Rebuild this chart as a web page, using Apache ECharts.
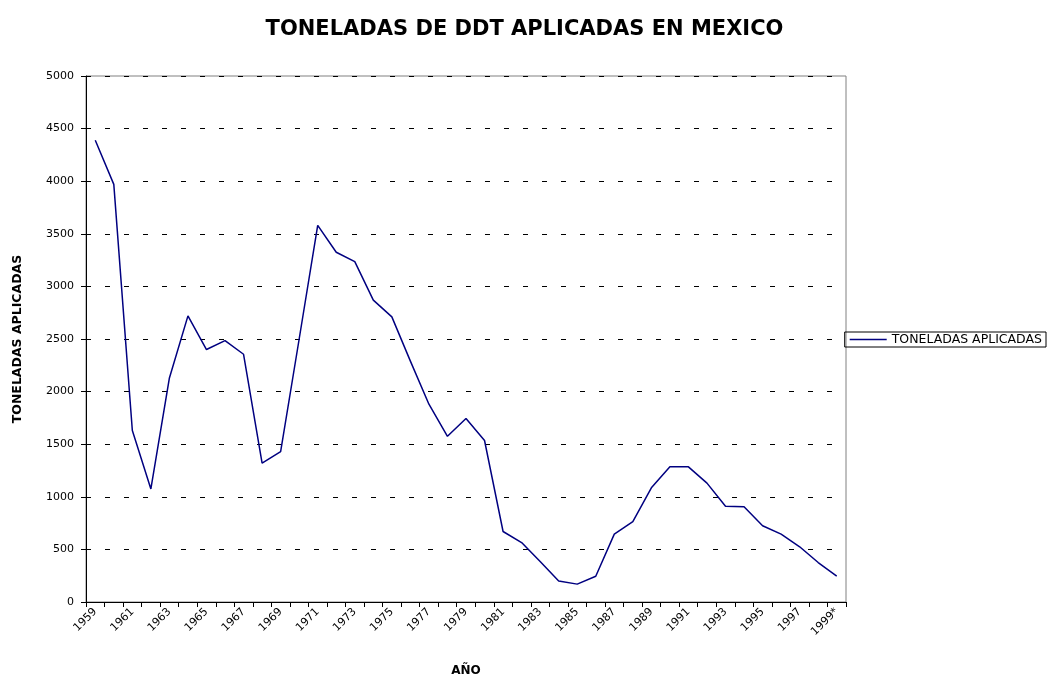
<!DOCTYPE html>
<html>
<head>
<meta charset="utf-8">
<script src="https://cdn.jsdelivr.net/npm/echarts@6/dist/echarts.min.js"></script>
<style>
  html, body { margin: 0; padding: 0; background: #fff; }
  #main { width: 1049px; height: 680px; }
</style>
</head>
<body>
<div id="main"></div>
<script>
var years = ['1959','1960','1961','1962','1963','1964','1965','1966','1967','1968',
  '1969','1970','1971','1972','1973','1974','1975','1976','1977','1978',
  '1979','1980','1981','1982','1983','1984','1985','1986','1987','1988',
  '1989','1990','1991','1992','1993','1994','1995','1996','1997','1998','1999*'];
var toneladas = [4390,3970,1630,1075,2130,2720,2400,2485,2355,1320,
  1430,2500,3580,3325,3235,2870,2710,2290,1880,1575,
  1745,1535,670,565,385,200,170,245,645,765,
  1085,1285,1285,1130,910,905,725,645,525,375,245];
var yTicks = { min: 0, max: 5000, step: 500 };

var myChart = echarts.init(document.getElementById('main'));
var option = {
  backgroundColor: '#fff',
  animation: false,
  title: {
    text: 'TONELADAS DE DDT APLICADAS EN MEXICO',
    left: 'center',
    top: 14,
    textStyle: {
      fontFamily: 'DejaVu Sans',
      fontSize: 21,
      fontWeight: 'bold',
      color: '#000'
    }
  },
  legend: {
    data: ['TONELADAS APLICADAS'],
    right: 3,
    top: 332,
    orient: 'vertical',
    borderColor: '#000',
    borderWidth: 1,
    padding: [1, 4, 1, 5],
    icon: 'rect',
    itemWidth: 37,
    itemHeight: 1.5,
    itemGap: 0,
    itemStyle: { color: '#000080' },
    textStyle: { fontFamily: 'DejaVu Sans', fontSize: 12.5, color: '#000', lineHeight: 13 }
  },
  grid: {
    left: 86,
    right: 203,
    top: 76,
    bottom: 78,
    outerBoundsMode: 'none',
    show: true,
    borderColor: '#808080',
    borderWidth: 1
  },
  xAxis: {
    type: 'category',
    data: years,
    boundaryGap: true,
    name: 'AÑO',
    nameLocation: 'middle',
    nameGap: 63,
    nameTextStyle: { fontFamily: 'DejaVu Sans', fontSize: 12, fontWeight: 'bold', color: '#000' },
    axisLine: { lineStyle: { color: '#000', width: 1 } },
    axisTick: { show: true, interval: 0, length: 5, lineStyle: { color: '#000' } },
    axisLabel: {
      interval: 1,
      rotate: 45,
      margin: 8,
      fontFamily: 'DejaVu Sans',
      fontSize: 11,
      color: '#000'
    },
    splitLine: { show: false }
  },
  yAxis: {
    type: 'value',
    min: yTicks.min,
    max: yTicks.max,
    interval: yTicks.step,
    name: 'TONELADAS APLICADAS',
    nameLocation: 'middle',
    nameGap: 62,
    nameTextStyle: { fontFamily: 'DejaVu Sans', fontSize: 12.5, fontWeight: 'bold', color: '#000' },
    axisLine: { show: true, lineStyle: { color: '#000', width: 1 } },
    axisTick: { show: true, length: 5, lineStyle: { color: '#000' } },
    axisLabel: {
      fontFamily: 'DejaVu Sans',
      fontSize: 11,
      color: '#000',
      margin: 12,
      formatter: function (v) { return String(v); }
    },
    splitLine: {
      show: true,
      lineStyle: { color: '#000', type: [5, 14], width: 1 }
    }
  },
  series: [{
    name: 'TONELADAS APLICADAS',
    type: 'line',
    data: toneladas,
    symbol: 'none',
    lineStyle: { color: '#000080', width: 1.5 },
    itemStyle: { color: '#000080' }
  }]
};
myChart.setOption(option);
</script>
</body>
</html>
